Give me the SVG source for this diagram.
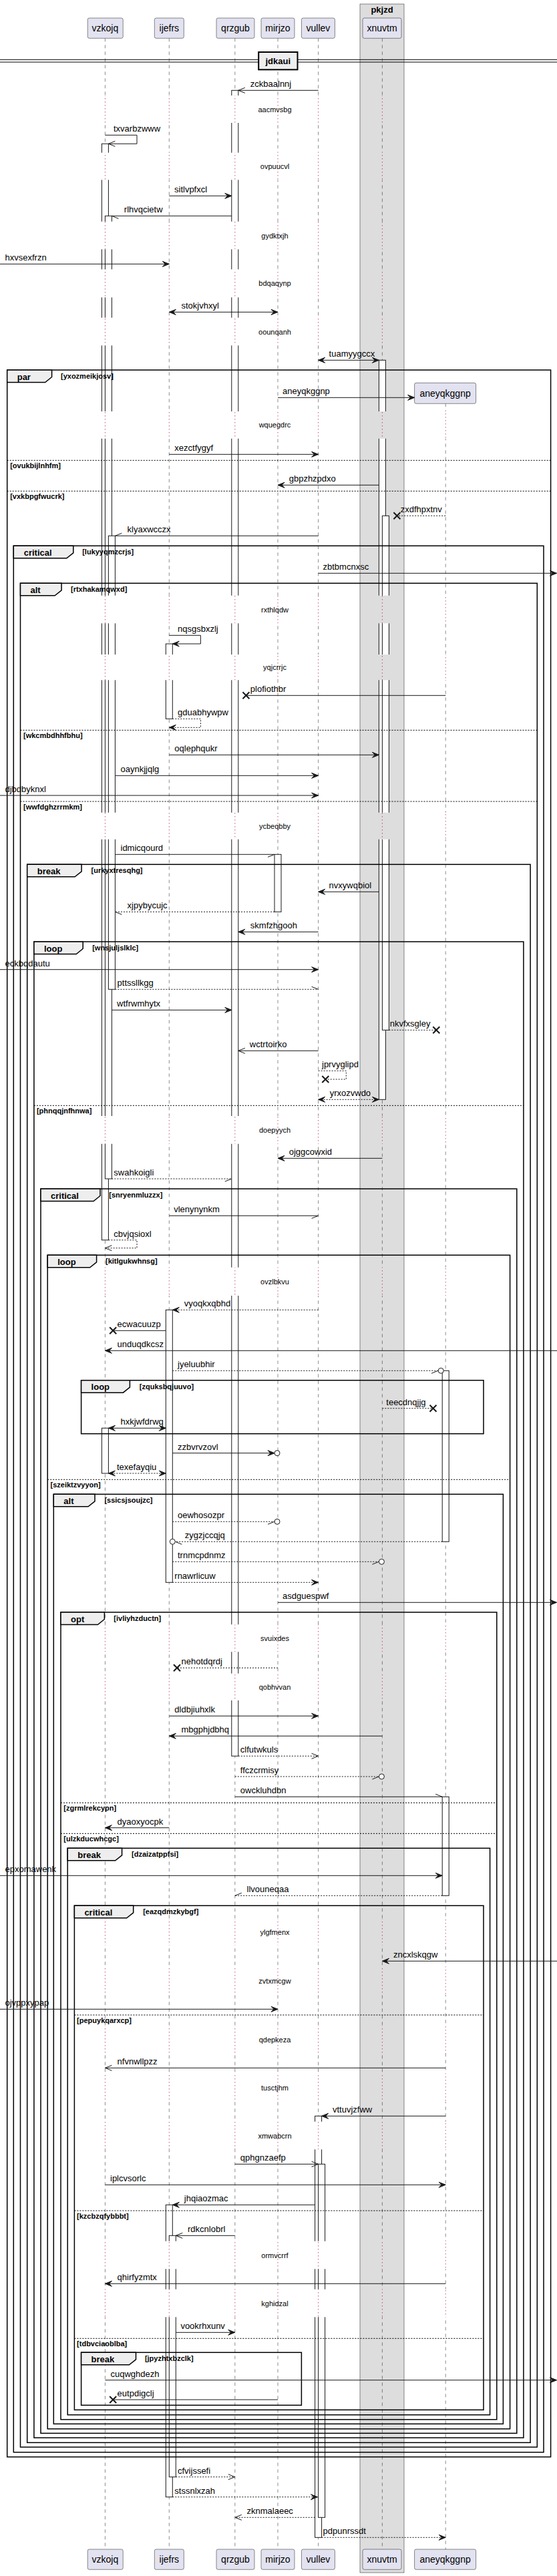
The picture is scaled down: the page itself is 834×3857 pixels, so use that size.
<svg xmlns="http://www.w3.org/2000/svg" width="834" height="3857" viewBox="0 0 834 3857">
<style>
text{font-family:"Liberation Sans",Arial,sans-serif;fill:#000}
.pn{font-size:14px;text-anchor:middle}
.ml{font-size:13px}
.dt{font-size:11px;text-anchor:middle}
.fl{font-size:13px;font-weight:bold}
.g{font-size:11px;font-weight:bold}
.ll{stroke:#181818;stroke-width:0.5;stroke-dasharray:5,5;fill:none}
.dl{stroke:#A80036;stroke-width:1;stroke-dasharray:1,4;fill:none}
.act rect{fill:#fff;stroke:#181818;stroke-width:1}
.pb{fill:#E2E2F0;stroke:#181818;stroke-width:0.5}
.m{stroke:#181818;stroke-width:1;fill:none}
.d{stroke-dasharray:2,2}
.fr{fill:none;stroke:#000;stroke-width:1.5}
.tab{fill:#EEEEEE;stroke:#000;stroke-width:1.5}
.sep{stroke:#000;stroke-width:1;stroke-dasharray:2,2}
.oc{fill:#fff;stroke:#181818;stroke-width:1}
</style>
<defs>
<marker id="af" viewBox="-12 -6 14 12" refX="0" refY="0" markerWidth="14" markerHeight="12" markerUnits="userSpaceOnUse" orient="auto" overflow="visible"><path d="M0,0 L-10,-4 L-6,0 L-10,4 Z" fill="#181818" stroke="#181818" stroke-width="1"/></marker>
<marker id="afs" viewBox="-2 -6 14 12" refX="0" refY="0" markerWidth="14" markerHeight="12" markerUnits="userSpaceOnUse" orient="auto" overflow="visible"><path d="M0,0 L10,-4 L6,0 L10,4 Z" fill="#181818" stroke="#181818" stroke-width="1"/></marker>
<marker id="ao" viewBox="-12 -6 14 12" refX="0" refY="0" markerWidth="14" markerHeight="12" markerUnits="userSpaceOnUse" orient="auto" overflow="visible"><path d="M-10,-4 L0,0 L-10,4" fill="none" stroke="#181818" stroke-width="1"/></marker>
<marker id="hu" viewBox="-12 -6 14 12" refX="0" refY="0" markerWidth="14" markerHeight="12" markerUnits="userSpaceOnUse" orient="auto" overflow="visible"><path d="M-10,-4 L0,0" fill="none" stroke="#181818" stroke-width="1"/></marker>
<marker id="hl" viewBox="-12 -6 14 12" refX="0" refY="0" markerWidth="14" markerHeight="12" markerUnits="userSpaceOnUse" orient="auto" overflow="visible"><path d="M-10,4 L0,0" fill="none" stroke="#181818" stroke-width="1"/></marker>
<marker id="ax" viewBox="-7 -7 14 14" refX="0" refY="0" markerWidth="14" markerHeight="14" markerUnits="userSpaceOnUse" orient="auto" overflow="visible"><path d="M-5,-5 L5,5 M-5,5 L5,-5" fill="none" stroke="#181818" stroke-width="2"/></marker>
<g id="drs">
<rect x="0" y="143" width="834" height="41"/>
<rect x="0" y="228.7" width="834" height="40.6"/>
<rect x="0" y="331.7" width="834" height="41.6"/>
<rect x="0" y="403.3" width="834" height="42"/>
<rect x="0" y="475.7" width="834" height="41.6"/>
<rect x="0" y="616" width="834" height="40.7"/>
<rect x="0" y="891.7" width="834" height="41.6"/>
<rect x="0" y="980" width="834" height="38.3"/>
<rect x="0" y="1216.7" width="834" height="40"/>
<rect x="0" y="1671" width="834" height="41.7"/>
<rect x="0" y="1897.7" width="834" height="42.3"/>
<rect x="0" y="2432.3" width="834" height="41"/>
<rect x="0" y="2505.7" width="834" height="40.3"/>
<rect x="0" y="2873.3" width="834" height="39"/>
<rect x="0" y="2945" width="834" height="41.7"/>
<rect x="0" y="3033.3" width="834" height="41.7"/>
<rect x="0" y="3105" width="834" height="41.7"/>
<rect x="0" y="3176.7" width="834" height="41.6"/>
<rect x="0" y="3355.7" width="834" height="41.6"/>
<rect x="0" y="3427.7" width="834" height="41.6"/>
</g>
<mask id="nd" maskUnits="userSpaceOnUse" x="0" y="0" width="834" height="3857"><rect x="0" y="0" width="834" height="3857" fill="#fff"/><use href="#drs" fill="#000"/></mask>
<mask id="od" maskUnits="userSpaceOnUse" x="0" y="0" width="834" height="3857"><use href="#drs" fill="#fff"/></mask>
</defs>
<rect width="834" height="3857" fill="#fff"/>
<g id="box-pkjzd">
<rect x="539" y="6" width="66" height="3846" fill="#DDDDDD" stroke="#181818" stroke-width="0.5"/>
<text class="fl" x="572" y="19" text-anchor="middle">pkjzd</text>
</g>
<g id="lifelines" mask="url(#nd)">
<line class="ll" x1="157.4" y1="57.3" x2="157.4" y2="3817"/>
<line class="ll" x1="253.3" y1="57.3" x2="253.3" y2="3817"/>
<line class="ll" x1="351.8" y1="57.3" x2="351.8" y2="3817"/>
<line class="ll" x1="416" y1="57.3" x2="416" y2="3817"/>
<line class="ll" x1="476.6" y1="57.3" x2="476.6" y2="3817"/>
<line class="ll" x1="572.4" y1="57.3" x2="572.4" y2="3817"/>
<line class="ll" x1="667.2" y1="604.3" x2="667.2" y2="3817"/>
</g>
<g id="delay-lines" mask="url(#od)">
<line class="dl" x1="157.4" y1="57.3" x2="157.4" y2="3817"/>
<line class="dl" x1="253.3" y1="57.3" x2="253.3" y2="3817"/>
<line class="dl" x1="351.8" y1="57.3" x2="351.8" y2="3817"/>
<line class="dl" x1="416" y1="57.3" x2="416" y2="3817"/>
<line class="dl" x1="476.6" y1="57.3" x2="476.6" y2="3817"/>
<line class="dl" x1="572.4" y1="57.3" x2="572.4" y2="3817"/>
<line class="dl" x1="667.2" y1="604.3" x2="667.2" y2="3817"/>
</g>
<g id="activations" class="act" mask="url(#nd)">
<rect x="152.4" y="215.3" width="10" height="1641.4"/>
<rect x="157.4" y="323.3" width="10" height="1441.7"/>
<rect x="162.4" y="802.3" width="10" height="679"/>
<rect x="152.4" y="2138.3" width="10" height="67.7"/>
<rect x="248.3" y="964" width="10" height="112.3"/>
<rect x="248.3" y="1961.3" width="10" height="408"/>
<rect x="248.3" y="3301.3" width="10" height="437.4"/>
<rect x="253.3" y="3347.3" width="10" height="361.4"/>
<rect x="346.8" y="135.3" width="10" height="2494"/>
<rect x="411" y="1279.3" width="10" height="86"/>
<rect x="471.6" y="3168.3" width="10" height="631"/>
<rect x="476.6" y="3240.3" width="10" height="529"/>
<rect x="567.4" y="539.3" width="10" height="1107"/>
<rect x="572.4" y="772.3" width="10" height="770"/>
<rect x="662.2" y="2052.3" width="10" height="256"/>
<rect x="662.2" y="2690.3" width="10" height="148"/>
</g>
<g id="p-vzkojq"><rect class="pb" x="131.2" y="27" width="53" height="30.3" rx="2.5"/><text class="pn" x="157.4" y="47">vzkojq</text><rect class="pb" x="131.2" y="3817" width="53" height="30.3" rx="2.5"/><text class="pn" x="157.4" y="3837">vzkojq</text></g>
<g id="p-ijefrs"><rect class="pb" x="231.3" y="27" width="44" height="30.3" rx="2.5"/><text class="pn" x="253.3" y="47">ijefrs</text><rect class="pb" x="231.3" y="3817" width="44" height="30.3" rx="2.5"/><text class="pn" x="253.3" y="3837">ijefrs</text></g>
<g id="p-qrzgub"><rect class="pb" x="324" y="27" width="57" height="30.3" rx="2.5"/><text class="pn" x="352.5" y="47">qrzgub</text><rect class="pb" x="324" y="3817" width="57" height="30.3" rx="2.5"/><text class="pn" x="352.5" y="3837">qrzgub</text></g>
<g id="p-mirjzo"><rect class="pb" x="391" y="27" width="50" height="30.3" rx="2.5"/><text class="pn" x="416" y="47">mirjzo</text><rect class="pb" x="391" y="3817" width="50" height="30.3" rx="2.5"/><text class="pn" x="416" y="3837">mirjzo</text></g>
<g id="p-vullev"><rect class="pb" x="451.4" y="27" width="50" height="30.3" rx="2.5"/><text class="pn" x="476.4" y="47">vullev</text><rect class="pb" x="451.4" y="3817" width="50" height="30.3" rx="2.5"/><text class="pn" x="476.4" y="3837">vullev</text></g>
<g id="p-xnuvtm"><rect class="pb" x="543" y="27" width="58" height="30.3" rx="2.5"/><text class="pn" x="572" y="47">xnuvtm</text><rect class="pb" x="543" y="3817" width="58" height="30.3" rx="2.5"/><text class="pn" x="572" y="3837">xnuvtm</text></g>
<g id="p-aneyqkggnp"><rect class="pb" x="620.6" y="573.3" width="92" height="31" rx="2.5"/><text class="pn" x="666.6" y="593.5">aneyqkggnp</text><rect class="pb" x="620.6" y="3817" width="92" height="30.3" rx="2.5"/><text class="pn" x="666.6" y="3837">aneyqkggnp</text></g>
<g id="div-jdkaui">
<line x1="0" y1="89.3" x2="834" y2="89.3" stroke="#000" stroke-width="1"/>
<line x1="0" y1="93" x2="834" y2="93" stroke="#000" stroke-width="1"/>
<rect x="387.2" y="78" width="58.3" height="26.3" fill="#EEEEEE" stroke="#000" stroke-width="2"/>
<text class="fl" x="416.3" y="95.5" text-anchor="middle">jdkaui</text>
</g>
<g id="fragments">
<g id="f-par"><rect class="fr" x="10.7" y="554" width="813.9" height="3124.7"/><path class="tab" d="M10.7,554H77.6V564.5L67.6,572.5H10.7Z"/><text class="fl" x="25.7" y="568.5">par</text><text class="g" x="91" y="567">[yxozmeikjosv]</text>
<line class="sep" x1="10.7" y1="689.3" x2="824.6" y2="689.3"/><text class="g" x="15.2" y="700.8">[ovukbijlnhfm]</text>
<line class="sep" x1="10.7" y1="735.3" x2="824.6" y2="735.3"/><text class="g" x="15.2" y="746.8">[vxkbpgfwucrk]</text></g>
<g id="f-critical1"><rect class="fr" x="20.3" y="817.3" width="793.7" height="2854.4"/><path class="tab" d="M20.3,817.3H109.8V827.8L99.8,835.8H20.3Z"/><text class="fl" x="35.7" y="831.8">critical</text><text class="g" x="123.2" y="830.3">[lukyyqmzcrjs]</text></g>
<g id="f-alt1"><rect class="fr" x="30.5" y="873.3" width="773.8" height="2790.7"/><path class="tab" d="M30.5,873.3H92.1V883.8L82.1,891.8H30.5Z"/><text class="fl" x="45.5" y="887.8">alt</text><text class="g" x="106" y="886.3">[rtxhakamqwxd]</text>
<line class="sep" x1="30.5" y1="1093.3" x2="804.3" y2="1093.3"/><text class="g" x="35" y="1104.8">[wkcmbdhhfbhu]</text>
<line class="sep" x1="30.5" y1="1200" x2="804.3" y2="1200"/><text class="g" x="35" y="1211.5">[wwfdghzrrmkm]</text></g>
<g id="f-break1"><rect class="fr" x="40.7" y="1294.3" width="753.4" height="2363"/><path class="tab" d="M40.7,1294.3H122.1V1304.8L112.1,1312.8H40.7Z"/><text class="fl" x="55.7" y="1308.8">break</text><text class="g" x="136.5" y="1307.3">[urkyxtresqhg]</text></g>
<g id="f-loop1"><rect class="fr" x="50.9" y="1410" width="733" height="2240"/><path class="tab" d="M50.9,1410H124.2V1420.5L114.2,1428.5H50.9Z"/><text class="fl" x="65.9" y="1424.5">loop</text><text class="g" x="138.2" y="1423">[wnsjuljslklc]</text>
<line class="sep" x1="50.9" y1="1655.3" x2="783.9" y2="1655.3"/><text class="g" x="54.9" y="1666.8">[phnqqjnfhnwa]</text></g>
<g id="f-critical2"><rect class="fr" x="61" y="1780" width="712.8" height="1863.3"/><path class="tab" d="M61,1780H150V1790.5L140,1798.5H61Z"/><text class="fl" x="76" y="1794.5">critical</text><text class="g" x="163.3" y="1793">[snryenmluzzx]</text></g>
<g id="f-loop2"><rect class="fr" x="71.2" y="1879.3" width="692.4" height="1757.4"/><path class="tab" d="M71.2,1879.3H144.6V1889.8L134.6,1897.8H71.2Z"/><text class="fl" x="86.2" y="1893.8">loop</text><text class="g" x="158" y="1892.3">[kitlgukwhnsg]</text>
<line class="sep" x1="71.2" y1="2215.3" x2="763.6" y2="2215.3"/><text class="g" x="75.5" y="2226.8">[szeiktzvyyon]</text></g>
<g id="f-loop3"><rect class="fr" x="121.6" y="2066.7" width="602.4" height="80"/><path class="tab" d="M121.6,2066.7H194.4V2077.2L184.4,2085.2H121.6Z"/><text class="fl" x="136.6" y="2081.2">loop</text><text class="g" x="208.8" y="2079.7">[zquksbqjuuvo]</text></g>
<g id="f-alt2"><rect class="fr" x="80.3" y="2237.3" width="673.1" height="1392"/><path class="tab" d="M80.3,2237.3H142V2247.8L132,2255.8H80.3Z"/><text class="fl" x="95.3" y="2251.8">alt</text><text class="g" x="156.4" y="2250.3">[ssicsjsoujzc]</text></g>
<g id="f-opt"><rect class="fr" x="91" y="2414" width="652.8" height="1208.7"/><path class="tab" d="M91,2414H156.4V2424.5L146.4,2432.5H91Z"/><text class="fl" x="106" y="2428.5">opt</text><text class="g" x="170.3" y="2427">[ivliyhzductn]</text>
<line class="sep" x1="91" y1="2699.3" x2="743.8" y2="2699.3"/><text class="g" x="95.3" y="2710.8">[zgrmlrekcypn]</text>
<line class="sep" x1="91" y1="2745.3" x2="743.8" y2="2745.3"/><text class="g" x="95.3" y="2756.8">[ulzkducwhcgc]</text></g>
<g id="f-break2"><rect class="fr" x="101.2" y="2767.3" width="632.4" height="848.4"/><path class="tab" d="M101.2,2767.3H182.6V2777.8L172.6,2785.8H101.2Z"/><text class="fl" x="116.2" y="2781.8">break</text><text class="g" x="197" y="2780.3">[dzaizatppfsi]</text></g>
<g id="f-critical3"><rect class="fr" x="111.4" y="2853.3" width="612.6" height="755"/><path class="tab" d="M111.4,2853.3H199.7V2863.8L189.7,2871.8H111.4Z"/><text class="fl" x="126.4" y="2867.8">critical</text><text class="g" x="214.2" y="2866.3">[eazqdmzkybgf]</text>
<line class="sep" x1="111.4" y1="3017" x2="724" y2="3017"/><text class="g" x="115.1" y="3028.5">[pepuykqarxcp]</text>
<line class="sep" x1="111.4" y1="3310" x2="724" y2="3310"/><text class="g" x="115.1" y="3321.5">[kzcbzqfybbbt]</text>
<line class="sep" x1="111.4" y1="3501.3" x2="724" y2="3501.3"/><text class="g" x="115.1" y="3512.8">[tdbvciaoblba]</text></g>
<g id="f-break3"><rect class="fr" x="121.6" y="3522.3" width="329.8" height="79"/><path class="tab" d="M121.6,3522.3H203.5V3532.8L193.5,3540.8H121.6Z"/><text class="fl" x="136.6" y="3536.8">break</text><text class="g" x="216.9" y="3535.3">[jpyzhtxbzclk]</text></g>
</g>
<g id="delays">
<text class="dt" x="411.5" y="167.5">aacmvsbg</text>
<text class="dt" x="411.5" y="253">ovpuucvl</text>
<text class="dt" x="411.5" y="356.5">gydktxjh</text>
<text class="dt" x="411.5" y="428.3">bdqaqynp</text>
<text class="dt" x="411.5" y="500.5">oounqanh</text>
<text class="dt" x="411.5" y="640.3">wquegdrc</text>
<text class="dt" x="411.5" y="916.5">rxthlqdw</text>
<text class="dt" x="411.5" y="1003">yqjcrrjc</text>
<text class="dt" x="411.5" y="1240.7">ycbeqbby</text>
<text class="dt" x="411.5" y="1695.8">doepyych</text>
<text class="dt" x="411.5" y="1922.8">ovzlbkvu</text>
<text class="dt" x="411.5" y="2456.8">svuixdes</text>
<text class="dt" x="411.5" y="2529.8">qobhvvan</text>
<text class="dt" x="411.5" y="2896.8">ylgfmenx</text>
<text class="dt" x="411.5" y="2969.8">zvtxmcgw</text>
<text class="dt" x="411.5" y="3058.2">qdepkeza</text>
<text class="dt" x="411.5" y="3129.8">tusctjhm</text>
<text class="dt" x="411.5" y="3201.5">xmwabcrn</text>
<text class="dt" x="411.5" y="3380.5">ormvcrrf</text>
<text class="dt" x="411.5" y="3452.5">kghidzal</text>
</g>
<g id="connectors">
<path class="m" d="M476.6,135.3H356.8" marker-end="url(#ao)"/><text class="ml" x="374.8" y="130.3">zckbaalnnj</text>
<path class="m" d="M157.4,202.3H205V215.3H162.4" marker-end="url(#ao)"/><text class="ml" x="170" y="197.3">txvarbzwww</text>
<path class="m" d="M253.3,293.3H346.8" marker-end="url(#af)"/><text class="ml" x="261" y="288.3">sitlvpfxcl</text>
<path class="m" d="M346.8,323.3H167.4" marker-end="url(#hu)"/><text class="ml" x="185.8" y="318.3">rlhvqcietw</text>
<path class="m" d="M0,395.3H253.3" marker-end="url(#af)"/><text class="ml" x="7.5" y="390.3">hxvsexfrzn</text>
<path class="m" d="M253.3,467.3H416" marker-start="url(#afs)" marker-end="url(#af)"/><text class="ml" x="271.5" y="462.3">stokjvhxyl</text>
<path class="m" d="M476.6,539.3H567.4" marker-start="url(#afs)" marker-end="url(#af)"/><text class="ml" x="492.6" y="534.3">tuamyygccx</text>
<path class="m" d="M416,595.3H620.6" marker-end="url(#af)"/><text class="ml" x="423" y="590.3">aneyqkggnp</text>
<path class="m" d="M253.3,680.3H476.6" marker-end="url(#af)"/><text class="ml" x="261.3" y="675.3">xezctfygyf</text>
<path class="m" d="M567.4,726.3H416" marker-end="url(#af)"/><text class="ml" x="432.7" y="721.3">gbpzhzpdxo</text>
<path class="m d" d="M667.2,772.3H594.4" marker-end="url(#ax)"/><text class="ml" x="599.7" y="767.3">zxdfhpxtnv</text>
<path class="m" d="M476.6,802.3H172.4" marker-end="url(#hl)"/><text class="ml" x="190.6" y="797.3">klyaxwcczx</text>
<path class="m" d="M476.6,858.3H833.5" marker-end="url(#af)"/><text class="ml" x="483.5" y="853.3">zbtbmcnxsc</text>
<path class="m" d="M253.3,951.3H300.4V964H258.3" marker-end="url(#af)"/><text class="ml" x="266" y="946.3">nqsgsbxzlj</text>
<path class="m" d="M667.2,1041.3H368.4" marker-end="url(#ax)"/><text class="ml" x="374.8" y="1036.3">plofiothbr</text>
<path class="m d" d="M258.3,1076.3H300.4V1089.3H253.3" marker-end="url(#af)"/><text class="ml" x="266" y="1071.3">gduabhywpw</text>
<path class="m" d="M253.3,1130.3H567.4" marker-end="url(#af)"/><text class="ml" x="261.3" y="1125.3">oqlephqukr</text>
<path class="m" d="M172.4,1161.3H476.6" marker-end="url(#af)"/><text class="ml" x="180.5" y="1156.3">oaynkjjqlg</text>
<path class="m" d="M0,1191H476.6" marker-end="url(#af)"/><text class="ml" x="7.5" y="1186">djbdbyknxl</text>
<path class="m" d="M172.4,1279.3H411" marker-end="url(#hl)"/><text class="ml" x="180.5" y="1274.3">idmicqourd</text>
<path class="m" d="M567.4,1335.3H476.6" marker-end="url(#af)"/><text class="ml" x="492.6" y="1330.3">nvxywqbiol</text>
<path class="m d" d="M411,1365.3H172.4" marker-end="url(#hu)"/><text class="ml" x="190.6" y="1360.3">xjpybycujc</text>
<path class="m" d="M476.6,1395.3H356.8" marker-end="url(#af)"/><text class="ml" x="374.8" y="1390.3">skmfzhgooh</text>
<path class="m" d="M0,1451.7H476.6" marker-end="url(#af)"/><text class="ml" x="7.5" y="1446.7">eckbqdautu</text>
<path class="m d" d="M172.4,1481.3H476.6" marker-end="url(#hu)"/><text class="ml" x="175.6" y="1476.3">pttssllkgg</text>
<path class="m" d="M167.4,1512.3H346.8" marker-end="url(#af)"/><text class="ml" x="175.1" y="1507.3">wtfrwmhytx</text>
<path class="m d" d="M582.4,1542.3H653.3" marker-end="url(#ax)"/><text class="ml" x="583.7" y="1537.3">nkvfxsgley</text>
<path class="m" d="M476.6,1573.3H356.8" marker-end="url(#ao)"/><text class="ml" x="373.8" y="1568.3">wctrtoirko</text>
<path class="m d" d="M476.6,1603.3H518.3V1616H487.3" marker-end="url(#ax)"/><text class="ml" x="482" y="1598.3">jprvyglipd</text>
<path class="m d" d="M476.6,1646.3H567.4" marker-start="url(#afs)" marker-end="url(#af)"/><text class="ml" x="493.7" y="1641.3">yrxozvwdo</text>
<path class="m" d="M572.4,1734.3H416" marker-end="url(#af)"/><text class="ml" x="432.7" y="1729.3">ojggcowxid</text>
<path class="m d" d="M167.4,1765H346.8" marker-end="url(#hl)"/><text class="ml" x="170.3" y="1760">swahkoigli</text>
<path class="m" d="M253.3,1820.3H476.6" marker-end="url(#hl)"/><text class="ml" x="260.2" y="1815.3">vlenynynkm</text>
<path class="m d" d="M162.4,1856.7H205V1868.7H157.4" marker-end="url(#ao)"/><text class="ml" x="170.3" y="1851.7">cbvjqsioxl</text>
<path class="m d" d="M476.6,1961.3H258.3" marker-end="url(#af)"/><text class="ml" x="275.8" y="1956.3">vyoqkxqbhd</text>
<path class="m" d="M248.3,1992.3H169.2" marker-end="url(#ax)"/><text class="ml" x="175.6" y="1987.3">ecwacuuzp</text>
<path class="m" d="M834,2022.3H157.4" marker-end="url(#af)"/><text class="ml" x="175.6" y="2017.3">unduqdkcsz</text>
<path class="m d" d="M258.3,2052.3H656" marker-end="url(#hl)"/><circle class="oc" cx="660.2" cy="2052.3" r="4"/><text class="ml" x="266" y="2047.3">jyeluubhir</text>
<path class="m d" d="M572.4,2108.7H648.5" marker-end="url(#ax)"/><text class="ml" x="578.3" y="2103.7">teecdnqjjg</text>
<path class="m" d="M162.4,2138.3H248.3" marker-start="url(#afs)" marker-end="url(#af)"/><text class="ml" x="180.5" y="2133.3">hxkjwfdrwq</text>
<path class="m" d="M258.3,2175.7H411" marker-end="url(#af)"/><circle class="oc" cx="415" cy="2175.7" r="4"/><text class="ml" x="266" y="2170.7">zzbvrvzovl</text>
<path class="m d" d="M162.4,2206H248.3" marker-start="url(#afs)" marker-end="url(#af)"/><text class="ml" x="175" y="2201">texefayqiu</text>
<path class="m d" d="M258.3,2278.3H411" marker-end="url(#hl)"/><circle class="oc" cx="415" cy="2278.3" r="4"/><text class="ml" x="266" y="2273.3">oewhosozpr</text>
<path class="m d" d="M662.2,2308.3H262.3" marker-end="url(#hu)"/><circle class="oc" cx="258.3" cy="2308.3" r="4"/><text class="ml" x="276.8" y="2303.3">zygzjccqjq</text>
<path class="m d" d="M258.3,2338.3H567.4" marker-end="url(#hl)"/><circle class="oc" cx="571.4" cy="2338.3" r="4"/><text class="ml" x="266" y="2333.3">trnmcpdnmz</text>
<path class="m d" d="M258.3,2369.3H476.6" marker-end="url(#af)"/><text class="ml" x="261.3" y="2364.3">rnawrlicuw</text>
<path class="m" d="M416,2399.3H833.5" marker-end="url(#af)"/><text class="ml" x="423" y="2394.3">asdguespwf</text>
<path class="m d" d="M416,2497.3H265" marker-end="url(#ax)"/><text class="ml" x="271.5" y="2492.3">nehotdqrdj</text>
<path class="m" d="M253.3,2569.3H476.6" marker-end="url(#af)"/><text class="ml" x="261.3" y="2564.3">dldbjiuhxlk</text>
<path class="m" d="M572.4,2599.3H253.3" marker-end="url(#af)"/><text class="ml" x="271.5" y="2594.3">mbgphjdbhq</text>
<path class="m d" d="M356.8,2629.3H476.6" marker-end="url(#ao)"/><text class="ml" x="359.8" y="2624.3">clfutwkuls</text>
<path class="m d" d="M351.8,2660H567.4" marker-end="url(#hl)"/><circle class="oc" cx="571.4" cy="2660" r="4"/><text class="ml" x="359.8" y="2655">ffczcrmisy</text>
<path class="m" d="M351.8,2690.3H662.2" marker-end="url(#hu)"/><text class="ml" x="359.8" y="2685.3">owckluhdbn</text>
<path class="m" d="M253.3,2736.7H157.4" marker-end="url(#af)"/><text class="ml" x="175.6" y="2731.7">dyaoxyocpk</text>
<path class="m" d="M0,2808.3H662.2" marker-end="url(#af)"/><text class="ml" x="7.5" y="2803.3">epxomawenk</text>
<path class="m d" d="M662.2,2838.3H351.8" marker-end="url(#hl)"/><text class="ml" x="369.5" y="2833.3">llvouneqaa</text>
<path class="m" d="M834,2936.3H572.4" marker-end="url(#af)"/><text class="ml" x="589" y="2931.3">zncxlskqgw</text>
<path class="m" d="M0,3008.3H416" marker-end="url(#af)"/><text class="ml" x="7.5" y="3003.3">ojvppxypap</text>
<path class="m" d="M667.2,3096.3H157.4" marker-end="url(#ao)"/><text class="ml" x="175.6" y="3091.3">nfvnwllpzz</text>
<path class="m" d="M667.2,3168.3H481.6" marker-end="url(#af)"/><text class="ml" x="498" y="3163.3">vttuvjzfww</text>
<path class="m" d="M351.8,3240.3H476.6" marker-end="url(#ao)"/><text class="ml" x="359.8" y="3235.3">qphgnzaefp</text>
<path class="m" d="M157.4,3271.3H667.2" marker-end="url(#af)"/><text class="ml" x="165" y="3266.3">iplcvsorlc</text>
<path class="m" d="M471.6,3301.3H258.3" marker-end="url(#af)"/><text class="ml" x="275.8" y="3296.3">jhqiaozmac</text>
<path class="m" d="M351.8,3347.3H263.3" marker-end="url(#ao)"/><text class="ml" x="281" y="3342.3">rdkcnlobrl</text>
<path class="m" d="M667.2,3419.3H157.4" marker-end="url(#af)"/><text class="ml" x="175.6" y="3414.3">qhirfyzmtx</text>
<path class="m" d="M263.3,3492.3H351.8" marker-end="url(#af)"/><text class="ml" x="270.4" y="3487.3">vookrhxunv</text>
<path class="m" d="M157.4,3563.7H833.5" marker-end="url(#af)"/><text class="ml" x="165.5" y="3558.7">cuqwghdezh</text>
<path class="m" d="M416,3593H169.2" marker-end="url(#ax)"/><text class="ml" x="175.6" y="3588">eutpdigclj</text>
<path class="m d" d="M263.3,3708.7H351.8" marker-end="url(#ao)"/><text class="ml" x="266" y="3703.7">cfvijssefi</text>
<path class="m d" d="M258.3,3738.7H475.5" marker-end="url(#af)"/><text class="ml" x="261.3" y="3733.7">stssnlxzah</text>
<path class="m d" d="M471.6,3769.3H351.8" marker-end="url(#ao)"/><text class="ml" x="369.5" y="3764.3">zknmalaeec</text>
<path class="m d" d="M481.6,3799.3H667.2" marker-end="url(#af)"/><text class="ml" x="483.5" y="3794.3">pdpunrssdt</text>
</g>
</svg>
